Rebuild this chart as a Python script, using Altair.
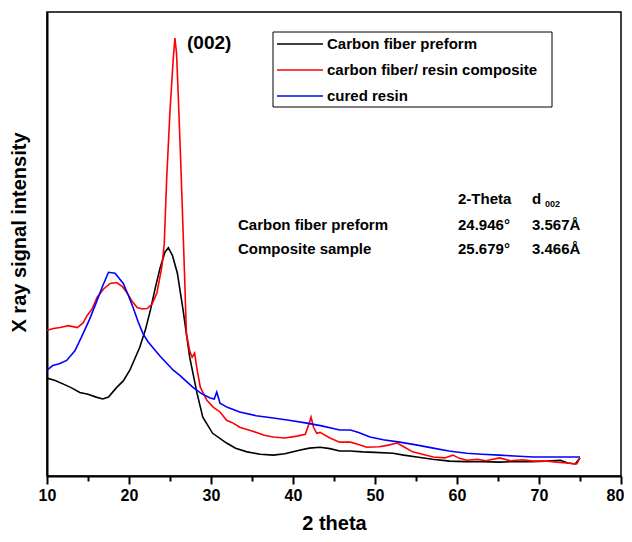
import altair as alt
import pandas as pd

# ---------------- data ----------------
black_x = [10.0, 11.0, 12.0, 13.0, 14.0, 15.0, 16.0, 16.8, 17.5, 18.5, 19.3, 20.1, 21.3, 22.0, 22.6,
           23.2, 23.8, 24.4, 24.8, 25.3, 25.9, 26.6, 27.4, 28.3, 29.0, 30.2, 31.9, 33.0, 34.4, 36.0,
           37.6, 39.0, 40.9, 42.0, 43.3, 44.5, 45.7, 47.0, 48.5, 50.0, 52.2, 53.5, 55.1, 57.0, 59.1,
           61.0, 63.0, 65.2, 67.0, 69.0, 71.0, 72.6, 73.5, 74.4, 75.0]
black_y = [21.1, 20.6, 19.8, 19.0, 18.0, 17.6, 17.0, 16.6, 17.0, 19.1, 20.5, 22.8, 27.7, 31.5, 35.7,
           40.5, 44.9, 48.3, 49.2, 47.5, 43.7, 35.7, 25.6, 17.8, 12.7, 9.2, 7.1, 6.0, 5.2, 4.7,
           4.5, 4.8, 5.6, 6.0, 6.2, 5.9, 5.4, 5.4, 5.2, 5.1, 4.9, 4.5, 4.1, 3.6, 3.2,
           3.1, 3.1, 3.0, 3.1, 3.1, 3.2, 3.4, 2.8, 2.6, 3.9]

red_x = [10.0, 10.8, 11.6, 12.6, 13.7, 14.4, 14.9, 15.5, 16.1, 16.9, 17.7, 18.5, 19.2, 19.8, 20.4,
         21.0, 21.6, 22.2, 22.8, 23.4, 24.0, 24.3, 24.6, 25.0, 25.4, 25.6, 25.8, 26.0, 26.3, 26.5,
         26.8, 27.0, 27.4, 27.7, 28.0, 28.3, 28.7, 29.5, 30.3, 31.1, 31.9, 32.6, 33.5, 35.0, 36.5,
         37.6, 39.0, 40.5, 41.5, 42.0, 42.2, 42.5, 42.9, 43.3, 44.5, 45.7, 47.0, 48.0, 49.0, 50.5,
         51.5, 52.7, 53.5, 54.6, 56.0, 57.1, 58.5, 59.5, 60.3, 61.2, 62.5, 63.5, 65.2, 66.5, 68.0,
         69.3, 71.0, 72.2, 73.4, 74.6, 75.0]
red_y = [31.4, 31.8, 32.0, 32.4, 32.0, 33.0, 34.6, 36.0, 38.5, 40.3, 41.5, 41.7, 40.8, 39.4, 37.6,
         36.3, 36.0, 36.1, 37.0, 39.4, 45.0, 50.0, 64.3, 78.7, 90.0, 94.4, 91.0, 82.4, 68.0, 57.8,
         42.0, 30.7, 27.0, 25.6, 26.5, 23.0, 19.1, 16.3, 14.8, 13.8, 12.0, 11.5, 10.5, 9.7, 8.8,
         8.4, 8.2, 8.6, 9.0, 11.5, 12.7, 10.5, 9.2, 9.4, 8.2, 7.3, 7.3, 6.8, 6.2, 6.3,
         6.6, 7.1, 6.3, 5.2, 4.6, 4.1, 3.9, 4.5, 3.8, 3.4, 3.6, 3.3, 3.9, 3.3, 3.5,
         3.2, 3.2, 3.0, 2.8, 2.6, 3.9]

blue_x = [10.0, 10.7, 11.5, 12.4, 13.4, 14.4, 15.2, 16.1, 16.8, 17.5, 18.3, 19.3, 19.9, 20.5, 21.1,
          21.7, 22.3, 22.9, 23.8, 24.6, 25.4, 26.2, 27.0, 27.8, 28.8, 29.9, 30.4, 30.7, 31.1, 32.0,
          33.5, 35.5, 37.6, 39.5, 41.7, 43.5, 45.7, 47.0, 48.0, 49.4, 51.0, 53.0, 55.0, 57.1, 59.0,
          61.2, 63.0, 65.2, 67.0, 69.3, 72.0, 74.0, 75.0]
blue_y = [22.8, 23.8, 24.2, 24.9, 27.0, 30.7, 33.8, 37.8, 41.0, 43.9, 43.7, 41.5, 39.0, 36.3, 33.3,
          30.7, 29.0, 27.7, 25.8, 24.3, 22.8, 21.7, 20.4, 19.1, 17.8, 16.8, 16.6, 18.1, 15.7, 14.8,
          13.8, 13.0, 12.5, 12.0, 11.4, 10.8, 9.9, 9.9, 9.4, 8.4, 7.8, 7.3, 6.7, 6.0, 5.4,
          4.9, 4.7, 4.5, 4.3, 4.1, 4.1, 4.1, 4.1]

series_names = ["Carbon fiber preform", "carbon fiber/ resin composite", "cured resin"]
series_colors = ["#000000", "#ff0000", "#0000ff"]

x_ticks = [10, 15, 20, 25, 30, 35, 40, 45, 50, 55, 60, 65, 70, 75, 80]

table_header = ["2-Theta", "d"]
table_rows = ["Carbon fiber preform", "Composite sample"]
table_theta = ["24.946°", "25.679°"]
table_d = ["3.567Å", "3.466Å"]

FONT = "Liberation Sans"
W, H = 574, 464

xs = alt.Scale(domain=[10, 80], nice=False, zero=False)
ys = alt.Scale(domain=[0, 100], nice=False, zero=False)

x_axis = alt.Axis(
    values=x_ticks,
    labelExpr="datum.value % 10 === 0 ? datum.label : ''",
    labelOffset=alt.ExprRef(expr="datum.value === 80 ? -6 : 0"),
    tickSize=alt.ExprRef(expr="datum.value % 10 === 0 ? 8 : 5"),
    tickWidth=2, tickColor="black",
    domainWidth=2, domainColor="black",
    labelFont=FONT, labelFontSize=16, labelFontWeight="bold", labelColor="black",
    labelPadding=3, labelFlush=False, labelBound=False, grid=False,
    title="2 theta", titleFont=FONT, titleFontSize=20, titleFontWeight="bold",
    titleColor="black", titleY=53, titleBaseline="alphabetic",
)
y_axis = alt.Axis(
    labels=False, ticks=False, grid=False,
    domainWidth=2, domainColor="black",
    title="X ray signal intensity", titleFont=FONT, titleFontSize=20,
    titleFontWeight="bold", titleColor="black",
    titleAngle=-90, titleX=-28, titleY=220, titleAlign="center", titleBaseline="middle",
)

curves = []
for name, xv, yv in zip(series_names, [black_x, red_x, blue_x], [black_y, red_y, blue_y]):
    curves.append(pd.DataFrame({"x": xv, "y": yv, "series": name}))
curve_df = pd.concat(curves, ignore_index=True)
curve_df["order"] = range(len(curve_df))

lines = alt.Chart(curve_df).mark_line(strokeWidth=1.6, clip=True).encode(
    x=alt.X("x:Q", scale=xs, axis=x_axis),
    y=alt.Y("y:Q", scale=ys, axis=y_axis),
    color=alt.Color("series:N", scale=alt.Scale(domain=series_names, range=series_colors), legend=None),
    order="order:Q",
)

layers = [lines]
dummy = pd.DataFrame({"a": [0]})

# legend box
layers.append(alt.Chart(dummy).mark_rect(fill="white", stroke="black", strokeWidth=1).encode(
    x=alt.value(226), x2=alt.value(505), y=alt.value(20), y2=alt.value(95)))
for i, (name, col) in enumerate(zip(series_names, series_colors)):
    yy = 32 + 26 * i
    layers.append(alt.Chart(dummy).mark_rule(color=col, strokeWidth=1.6).encode(
        x=alt.value(230), x2=alt.value(276), y=alt.value(yy)))
    layers.append(alt.Chart(dummy).mark_text(
        text=name, font=FONT, fontSize=15, fontWeight="bold", align="left",
        baseline="middle", color="black").encode(x=alt.value(280), y=alt.value(yy)))


def txt(s, x, y, size=15):
    return alt.Chart(dummy).mark_text(
        text=s, font=FONT, fontSize=size, fontWeight="bold", align="left",
        baseline="middle", color="black").encode(x=alt.value(x), y=alt.value(y))


# (002) label
layers.append(txt("(002)", 140, 31, size=19))

# table annotation
layers.append(txt(table_header[0], 411, 187))
layers.append(txt(table_header[1], 485, 187))
layers.append(txt("002", 498, 192, size=9))
for i in range(2):
    yy = 213 + 24 * i
    layers.append(txt(table_rows[i], 191, yy))
    layers.append(txt(table_theta[i], 411, yy))
    layers.append(txt(table_d[i], 485, yy))

chart = alt.layer(*layers).properties(
    width=W, height=H,
    background="white",
    autosize=alt.AutoSizeParams(type="none"),
    padding={"left": 39, "top": 4, "right": 3, "bottom": 58},
).configure_view(stroke="black", strokeWidth=1.5)

chart.save("out.html", embed_options={"renderer": "svg", "actions": False})
